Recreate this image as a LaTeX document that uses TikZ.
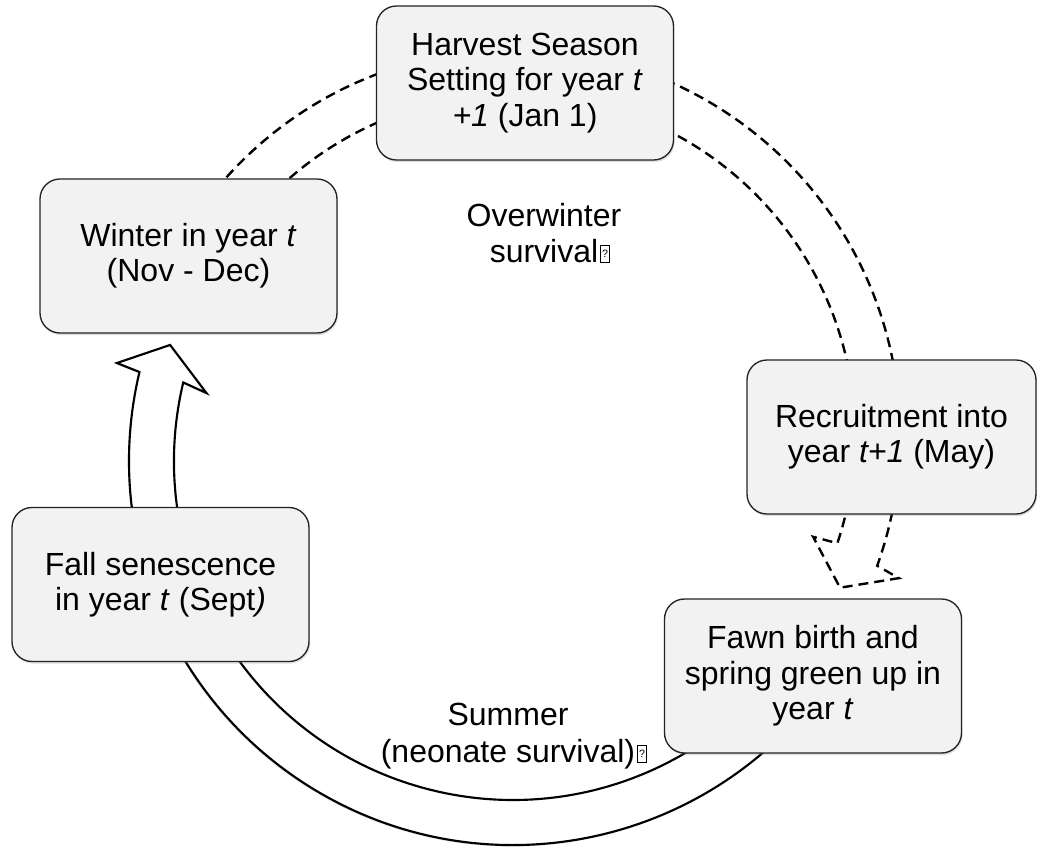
\documentclass[tikz,border=0pt]{standalone}
\usepackage{fontspec}
\setmainfont{Liberation Sans}
\usepackage{tikz}
\usetikzlibrary{calc,shadows}
\definecolor{boxGray}{RGB}{242,242,242}
\definecolor{edgeGray}{RGB}{35,35,35}
\newcommand{\Tofu}{%
\begin{tikzpicture}[baseline=0pt]
  \draw[line width=0.5pt] (0pt,0pt) rectangle (6.75pt,12.75pt);
  \node[inner sep=0pt,font=\fontsize{8}{8}\selectfont] at (3.375pt,6.4pt) {?};
\end{tikzpicture}}
\tikzset{
  stageBox/.style={draw=edgeGray,fill=boxGray,line width=1pt,rounded corners=15pt,
    minimum width=222.75pt,minimum height=115.5pt,align=center,inner sep=4pt,
    font=\fontsize{24}{26.5}\selectfont,
    drop shadow={opacity=0.25,shadow xshift=0.8pt,shadow yshift=-1.6pt}},
  noteText/.style={align=center,font=\fontsize{24}{27.5}\selectfont,inner sep=0pt},
  bandArrow/.style={draw=black,fill=white,line width=1.6pt,
    drop shadow={opacity=0.2,shadow xshift=-0.8pt,shadow yshift=-1.2pt}},
  ringArrow/.style={draw=black,fill=white,line width=1.8pt,dash pattern=on 7.5pt off 4.5pt}
}

\begin{document}
\begin{tikzpicture}[x=0.75pt,y=-0.75pt]
\useasboundingbox (0,0) rectangle (1038,848);
\coordinate (ringC) at (514,435);
\coordinate (bandC) at (513,461);

% dashed ring: harvest -> recruitment
\draw[ringArrow] ($(ringC)+(150:289.5pt)$) arc[start angle=150, end angle=-19.8, radius=289.5pt]
  -- ($(ringC)+(-20.4:308pt)$) -- ($(ringC)+(-25.1:270pt)$) -- ($(ringC)+(-18.8:237pt)$)
  -- ($(ringC)+(-18.5:255.75pt)$) arc[start angle=-18.5, end angle=150, radius=255.75pt] -- cycle;

% solid band: fawn -> fall -> winter
\draw[bandArrow] ($(bandC)+(-30:288pt)$) arc[start angle=-30, end angle=-193.4, radius=288pt]
  -- ($(bandC)+(-193.9:306pt)$) -- ($(bandC)+(-198.7:271.5pt)$) -- ($(bandC)+(-192.5:235.5pt)$)
  -- ($(bandC)+(-193.4:254.25pt)$) arc[start angle=-193.4, end angle=-30, radius=254.25pt] -- cycle;

\node[stageBox] (harvest) at (525,83) {Harvest Season\\Setting for year \textit{t}\\\textit{+1} (Jan 1)};
\node[stageBox] (winter) at (188.5,256) {Winter in year \textit{t}\\(Nov - Dec)};
\node[stageBox,minimum width=216.75pt] (recruit) at (891.5,437) {Recruitment into\\year \textit{t+1} (May)};
\node[stageBox] (fall) at (160.5,584.5) {Fall senescence\\in year \textit{t} (Sept\textit{)}};
\node[stageBox] (fawn) at (813,676) {Fawn birth and\\spring green up in\\year \textit{t}};

\node[noteText] (overwinter) at (544,233) {Overwinter\\survival\rlap{\hspace{1.5pt}\Tofu}};
\node[noteText] (summer) at (508,736) {Summer\\(neonate survival)\rlap{\hspace{1.5pt}\Tofu}};
\end{tikzpicture}
\end{document}
